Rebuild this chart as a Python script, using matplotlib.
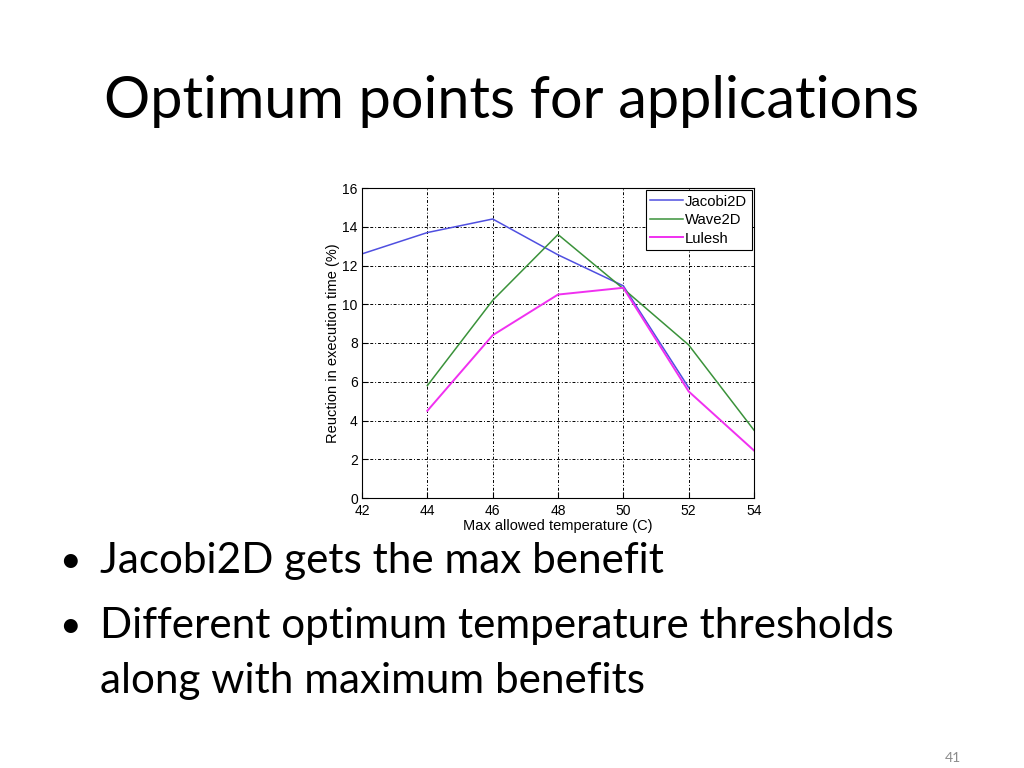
import matplotlib
matplotlib.use('Agg')
from matplotlib import pyplot as plt

temps = [42, 44, 46, 48, 50, 52, 54]
jacobi_x = [42, 44, 46, 48, 50, 52]
jacobi = [12.6, 13.7, 14.4, 12.55, 10.95, 5.7]
wave_x = [44, 46, 48, 50, 52, 54]
wave = [5.8, 10.2, 13.6, 10.8, 7.9, 3.5]
lulesh_x = [44, 46, 48, 50, 52, 54]
lulesh = [4.5, 8.4, 10.5, 10.85, 5.5, 2.45]
yticks = [0, 2, 4, 6, 8, 10, 12, 14, 16]

fig = plt.figure(figsize=(10.24, 7.68), dpi=100)
slide_font = ['Lato', 'DejaVu Sans']
plot_font = ['Liberation Sans', 'DejaVu Sans']

# slide title and bullets
fig.text(0.5, 1 - 118/768, 'Optimum points for applications', ha='center', va='baseline',
         fontsize=41.5, family=slide_font)
bsize = 30.4
fig.text(59/1024, 1 - 572/768, '\u2022', fontsize=27, va='baseline', family=slide_font)
fig.text(100/1024, 1 - 573/768, 'Jacobi2D gets the max benefit', fontsize=bsize, va='baseline', family=slide_font)
fig.text(59/1024, 1 - 637/768, '\u2022', fontsize=27, va='baseline', family=slide_font)
fig.text(100/1024, 1 - 638/768, 'Different optimum temperature thresholds', fontsize=bsize, va='baseline', family=slide_font)
fig.text(100/1024, 1 - 693/768, 'along with maximum benefits', fontsize=bsize, va='baseline', family=slide_font)
fig.text(953/1024, 1 - 762/768, '41', fontsize=10, color='#8c8c8c', ha='center', va='baseline', family=slide_font)

ax = fig.add_axes([362/1024, 1 - 498/768, 392/1024, 310/768])
ax.plot(jacobi_x, jacobi, color='#4f4fe0', lw=1.1, label='Jacobi2D')
ax.plot(wave_x, wave, color='#3a923a', lw=1.1, label='Wave2D')
ax.plot(lulesh_x, lulesh, color='#f030f0', lw=1.4, label='Lulesh')

ax.set_xlim(42, 54)
ax.set_ylim(0, 16)
ax.set_xticks(temps)
ax.set_yticks(yticks)
ax.grid(True, color='black', linestyle=(0, (3, 2, 1, 2)), linewidth=0.7)
ax.tick_params(direction='in', length=4, labelsize=10)
ax.tick_params(axis='x', pad=4)
ax.tick_params(axis='y', pad=3)
for lab in ax.get_xticklabels() + ax.get_yticklabels():
    lab.set_family(plot_font)
for s in ax.spines.values():
    s.set_linewidth(0.8)
ax.set_xlabel('Max allowed temperature (C)', fontsize=10.5, family=plot_font, labelpad=1)
ax.set_ylabel('Reuction in execution time (%)', fontsize=10.5, family=plot_font, labelpad=2)

leg = ax.legend(loc='upper right', fancybox=False, edgecolor='black', framealpha=1,
                prop={'family': plot_font, 'size': 10.7}, handlelength=2.2,
                borderpad=0.3, labelspacing=0.3, handletextpad=0.15,
                borderaxespad=0.15)
leg.get_frame().set_linewidth(0.8)

fig.savefig('out.png', dpi=100)
